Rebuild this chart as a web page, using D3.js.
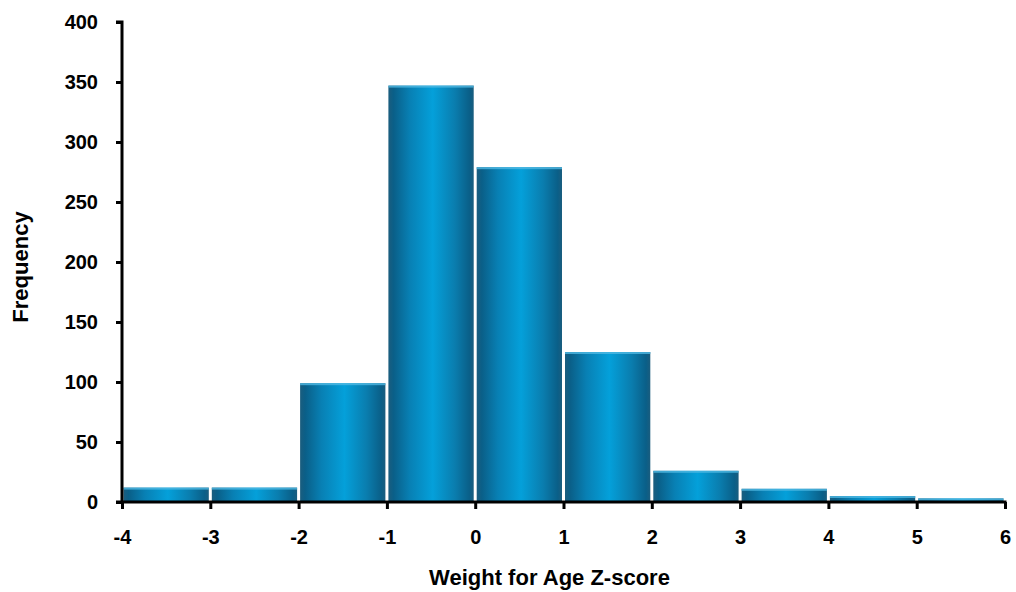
<!DOCTYPE html>
<html><head><meta charset="utf-8">
<script src="https://cdn.jsdelivr.net/npm/d3@7"></script>
<style>body{margin:0;background:#fff}svg{display:block}</style>
</head><body>
<script>
const binStarts = [-4,-3,-2,-1,0,1,2,3,4,5];
const frequencies = [12,12,99,347,279,125,26,11,5,3];
const xTicks = [-4,-3,-2,-1,0,1,2,3,4,5,6];
const yTicks = [0,50,100,150,200,250,300,350,400];

const W=1016,H=592;
const m={left:122,right:11,top:22,bottom:90};
const svg=d3.select("body").append("svg").attr("width",W).attr("height",H);
const x=d3.scaleLinear().domain([-4,6]).range([m.left,W-m.right]);
const y=d3.scaleLinear().domain([0,400]).range([H-m.bottom,m.top]);

const defs=svg.append("defs");
const g=defs.append("linearGradient").attr("id","bg").attr("x1","0").attr("x2","1").attr("y1","0").attr("y2","0");
[[0,"#1b5d7e"],[0.06,"#0a5f88"],[0.25,"#0880b4"],[0.52,"#04a0da"],[0.78,"#0a7dae"],[0.95,"#0a5f88"],[1,"#1b5d7e"]].forEach(s=>g.append("stop").attr("offset",s[0]).attr("stop-color",s[1]));

const bars=svg.append("g");
binStarts.forEach((b,i)=>{
  const x0=x(b)+1.5,x1=x(b+1)-1.5,yt=y(frequencies[i]),yb=y(0);
  bars.append("rect").attr("x",x0).attr("y",yt).attr("width",x1-x0).attr("height",yb-yt).attr("fill","url(#bg)");
  bars.append("rect").attr("x",x0).attr("y",yt).attr("width",x1-x0).attr("height",Math.min(2,yb-yt)).attr("fill","#4fb8e2").attr("opacity",0.8);
});

const font="'Liberation Sans', Arial, sans-serif";
const ya=svg.append("g").attr("transform",`translate(${m.left},0)`)
  .call(d3.axisLeft(y).tickValues(yTicks).tickSize(6).tickPadding(18));
const xa=svg.append("g").attr("transform",`translate(0,${y(0)})`)
  .call(d3.axisBottom(x).tickValues(xTicks).tickSize(7).tickPadding(21).tickFormat(d=>String(d)));
[ya,xa].forEach(a=>{
  a.select(".domain").attr("stroke","#000").attr("stroke-width",3);
  a.selectAll(".tick line").attr("stroke","#000").attr("stroke-width",3);
  a.selectAll("text").attr("font-family",font).attr("font-weight","bold").attr("font-size",20).attr("fill","#000");
});
ya.select(".domain").attr("d",`M-6,${y(400)}H0V${y(0)+1.5}`);
xa.select(".domain").attr("d",`M${x(-4)-6},0H${x(6)+1.5}`);

svg.append("text").attr("x",(x(-4)+x(6))/2-14).attr("y",585).attr("text-anchor","middle")
  .attr("font-family",font).attr("font-weight","bold").attr("font-size",22).text("Weight for Age Z-score");
svg.append("text").attr("transform",`translate(28,267) rotate(-90)`).attr("text-anchor","middle")
  .attr("font-family",font).attr("font-weight","bold").attr("font-size",22).text("Frequency");
</script>
</body></html>
